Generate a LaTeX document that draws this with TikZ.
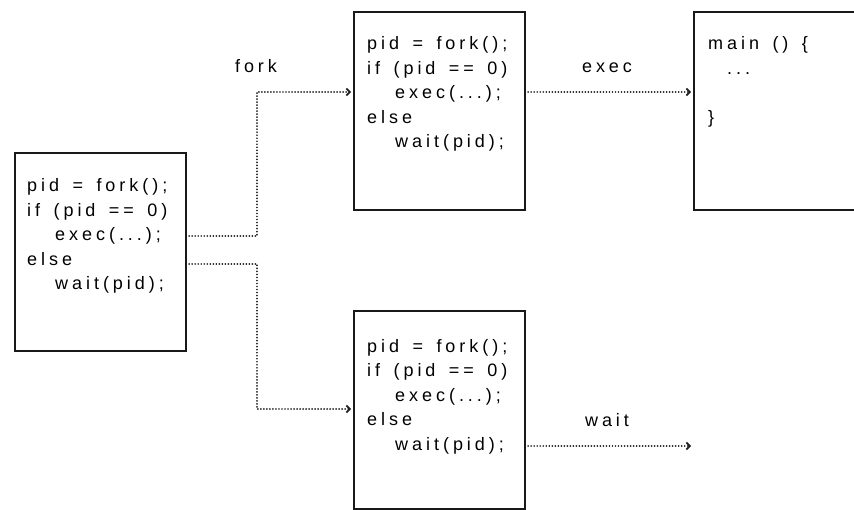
\documentclass[tikz,border=0pt]{standalone}
\usepackage{fontspec}
\newfontfamily\codefont[LetterSpace=22,WordSpace=1.5]{Liberation Sans}
\usetikzlibrary{arrows.meta}
\begin{document}
\begin{tikzpicture}[x=1pt,y=-1pt,
  box/.style={draw=black!90,line width=2.2pt,rectangle,anchor=north west,inner sep=0pt,minimum width=171pt,minimum height=198pt},
  code/.style={anchor=base west,align=left,inner sep=0pt,font=\codefont\fontsize{18}{24.5}\selectfont,text=black},
  lbl/.style={anchor=base,inner sep=0pt,font=\codefont\fontsize{18}{20}\selectfont,text=black},
  conn/.style={line width=1.9pt,line cap=round,dash pattern=on 0.01pt off 3pt,draw=black!88,shorten <=2pt,shorten >=2pt,-{Straight Barb[length=3.5pt,width=7pt,line width=1.7pt,line cap=butt]}}
]
\useasboundingbox (0,0) rectangle (854,510);
\clip (0,0) rectangle (854,510);
% boxes
\node[box] (L) at (14,152) {};
\node[box] (T) at (353,11) {};
\node[box] (B) at (353,310) {};
\node[box,minimum width=200pt] (R) at (693,11) {};
% code (anchored at the baseline of the last line)
\node[code] (Lt) at (27,290) {pid = fork();\\if (pid == 0)\\\hspace*{28pt}exec(...);\\else\\\hspace*{28pt}wait(pid);};
\node[code] (Tt) at (367,148) {pid = fork();\\if (pid == 0)\\\hspace*{28pt}exec(...);\\else\\\hspace*{28pt}wait(pid);};
\node[code] (Bt) at (367,450) {pid = fork();\\if (pid == 0)\\\hspace*{28pt}exec(...);\\else\\\hspace*{28pt}wait(pid);};
\node[code] (Rt) at (708,123.5) {main () \{\\\hspace*{19pt}...\\\mbox{}\\\}};
% labels
\node[lbl] (fork) at (256,73) {fork};
\node[lbl] (exec) at (607,73) {exec};
\node[lbl] (wait) at (607,426) {wait};
% connectors
\coordinate (wend) at (693,446);
\draw[conn] (L.east |- 0,236) -- (257,236) |- (T.west |- 0,92);
\draw[conn] (L.east |- 0,264) -- (257,264) |- (B.west |- 0,409);
\draw[conn] (T.east |- 0,92) -- (R.west |- 0,92);
\draw[conn] (B.east |- 0,446) -- (wend);
\end{tikzpicture}
\end{document}
